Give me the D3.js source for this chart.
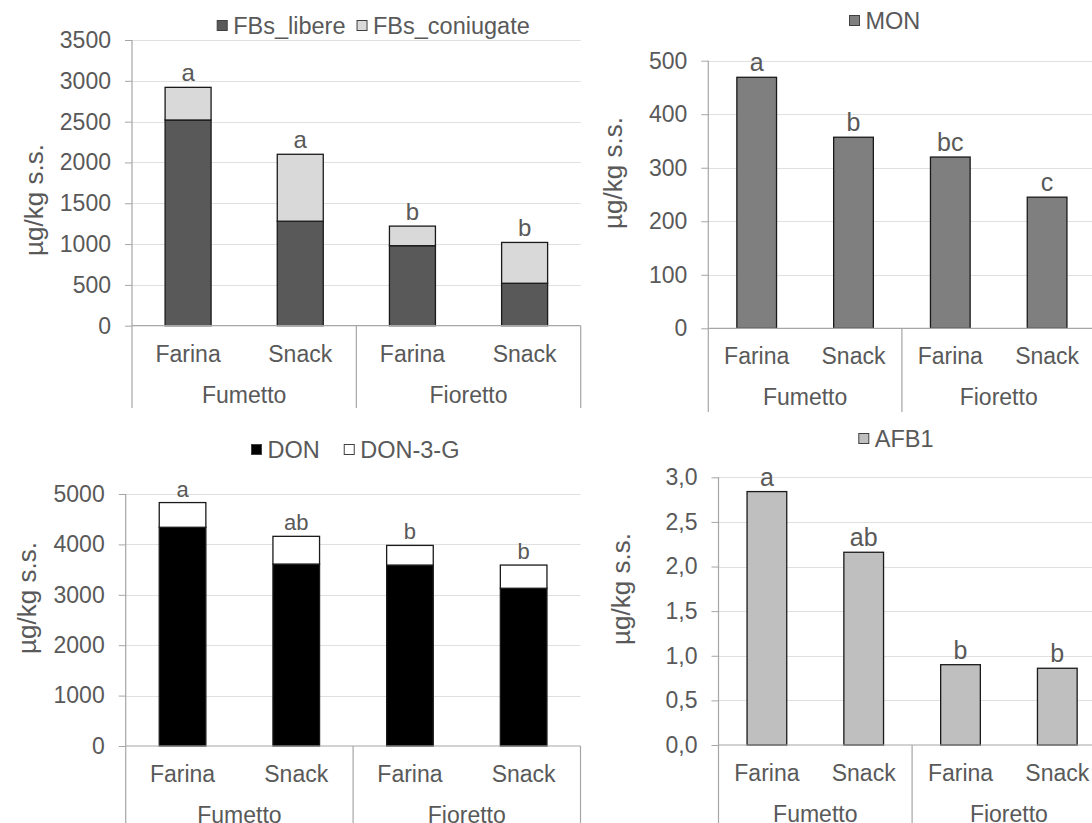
<!DOCTYPE html>
<html>
<head>
<meta charset="utf-8">
<script src="https://cdn.jsdelivr.net/npm/d3@7"></script>
<style>
  html, body { margin: 0; padding: 0; background: #fff; }
  svg { display: block; }
  text { font-family: "Liberation Sans", Arial, sans-serif; fill: #595959; }
</style>
</head>
<body>
<svg id="chart" width="1092" height="823"></svg>
<script>
// ---- Data ----
const products = ["Farina", "Snack", "Farina", "Snack"];
const groups = ["Fumetto", "Fioretto"];

const fbsLibere = [2520, 1280, 980, 520];
const fbsConiugate = [400, 820, 240, 500];
const fbsLetters = ["a", "a", "b", "b"];

const mon = [469, 357, 320, 245];
const monLetters = ["a", "b", "bc", "c"];

const don = [4340, 3610, 3590, 3130];
const don3G = [490, 550, 390, 460];
const donLetters = ["a", "ab", "b", "b"];

const afb1 = [2.84, 2.16, 0.90, 0.86];
const afb1Letters = ["a", "ab", "b", "b"];

const fbsTicks = [0, 500, 1000, 1500, 2000, 2500, 3000, 3500];
const monTicks = [0, 100, 200, 300, 400, 500];
const donTicks = [0, 1000, 2000, 3000, 4000, 5000];
const afb1Ticks = [0, 0.5, 1.0, 1.5, 2.0, 2.5, 3.0];

const yTitle = "µg/kg s.s.";

const commaDecimal = d3.formatLocale({decimal: ",", thousands: ".", grouping: [3], currency: ["", "€"]}).format(".1f");

// ---- Panels ----
const panels = [
  {
    series: [{name: "FBs_libere", values: fbsLibere, fill: "#595959"},
             {name: "FBs_coniugate", values: fbsConiugate, fill: "#d9d9d9"}],
    letters: fbsLetters, ticks: fbsTicks, fmt: d3.format("d"),
    x0: 132, x1: 580.7, yTop: 40, yZero: 325.7, catBottom: 408,
    titleX: 34, titleY: 200, legendX: 216.7, legendY: 26, legendGap: 11,
    letterSize: 24
  },
  {
    series: [{name: "MON", values: mon, fill: "#7f7f7f"}],
    letters: monLetters, ticks: monTicks, fmt: d3.format("d"),
    x0: 708.3, x1: 1095.5, yTop: 60.7, yZero: 328.3, catBottom: 412,
    titleX: 612.6, titleY: 173, legendX: 849, legendY: 21, legendGap: 12,
    letterSize: 25
  },
  {
    series: [{name: "DON", values: don, fill: "#000000"},
             {name: "DON-3-G", values: don3G, fill: "#ffffff"}],
    letters: donLetters, ticks: donTicks, fmt: d3.format("d"),
    x0: 125.7, x1: 580.5, yTop: 494, yZero: 746, catBottom: 830,
    titleX: 27, titleY: 598, legendX: 251, legendY: 450, legendGap: 24,
    letterSize: 22
  },
  {
    series: [{name: "AFB1", values: afb1, fill: "#bfbfbf"}],
    letters: afb1Letters, ticks: afb1Ticks, fmt: commaDecimal,
    x0: 718.5, x1: 1105.7, yTop: 477.3, yZero: 745, catBottom: 830,
    titleX: 621, titleY: 589, legendX: 858.3, legendY: 439, legendGap: 12,
    letterSize: 25
  }
];

const svg = d3.select("#chart");
svg.append("rect").attr("width", 1092).attr("height", 823).attr("fill", "#fff");

panels.forEach(p => drawPanel(p));

function drawPanel(p) {
  const g = svg.append("g");
  const idx = d3.range(products.length);
  const yMax = d3.max(p.ticks);

  const x = d3.scaleBand().domain(idx).range([p.x0, p.x1])
    .paddingInner(0.59).paddingOuter(0.295);
  const y = d3.scaleLinear().domain([0, yMax]).range([p.yZero, p.yTop]);

  // gridlines
  g.append("g").selectAll("line").data(p.ticks.filter(t => t > 0)).join("line")
    .attr("x1", p.x0).attr("x2", p.x1)
    .attr("y1", d => Math.round(y(d)) + 0.5).attr("y2", d => Math.round(y(d)) + 0.5)
    .attr("stroke", "#e0e0e0").attr("stroke-width", 1);

  // value axis
  const yAxis = d3.axisLeft(y).tickValues(p.ticks).tickFormat(p.fmt)
    .tickSize(7).tickSizeOuter(0).tickPadding(14);
  const ya = g.append("g").attr("transform", `translate(${p.x0},0)`).call(yAxis);
  ya.select(".domain").remove();
  ya.selectAll(".tick line").attr("stroke", "#a6a6a6");
  ya.selectAll(".tick text").attr("font-size", 23).attr("fill", "#595959")
    .attr("font-family", "Liberation Sans, Arial, sans-serif");

  // stacked bars
  const stacked = d3.stack().keys(d3.range(p.series.length))
    .value((d, k) => p.series[k].values[d])(idx);
  stacked.forEach((layer, k) => {
    g.append("g").selectAll("rect").data(layer).join("rect")
      .attr("x", (d, i) => x(i))
      .attr("width", x.bandwidth())
      .attr("y", d => y(d[1]))
      .attr("height", d => y(d[0]) - y(d[1]))
      .attr("fill", p.series[k].fill)
      .attr("stroke", "#1a1a1a").attr("stroke-width", 1.3);
  });

  // axis lines (value axis + multi-level category axis)
  const axisColor = "#a6a6a6";
  g.append("line").attr("x1", p.x0).attr("x2", p.x0)
    .attr("y1", y(yMax)).attr("y2", p.catBottom)
    .attr("stroke", axisColor).attr("stroke-width", 1.2);
  g.append("line").attr("x1", p.x0).attr("x2", p.x1)
    .attr("y1", y(0)).attr("y2", y(0))
    .attr("stroke", axisColor).attr("stroke-width", 1.2);
  const sepX = (x(1) + x.bandwidth() + x(2)) / 2;
  [sepX, p.x1].forEach(sx => {
    g.append("line").attr("x1", sx).attr("x2", sx)
      .attr("y1", y(0)).attr("y2", p.catBottom)
      .attr("stroke", axisColor).attr("stroke-width", 1.2);
  });

  // category labels
  g.append("g").selectAll("text").data(products).join("text")
    .attr("x", (d, i) => x(i) + x.bandwidth() / 2)
    .attr("y", y(0) + 36)
    .attr("text-anchor", "middle").attr("font-size", 23)
    .text(d => d);
  g.append("g").selectAll("text").data(groups).join("text")
    .attr("x", (d, i) => (x(i * 2) + x(i * 2 + 1) + x.bandwidth()) / 2)
    .attr("y", y(0) + 77)
    .attr("text-anchor", "middle").attr("font-size", 23)
    .text(d => d);

  // significance letters
  const totals = idx.map(i => d3.sum(p.series, s => s.values[i]));
  g.append("g").selectAll("text").data(p.letters).join("text")
    .attr("x", (d, i) => x(i) + x.bandwidth() / 2)
    .attr("y", (d, i) => y(totals[i]) - 6)
    .attr("text-anchor", "middle").attr("font-size", p.letterSize)
    .attr("fill", "#404040")
    .text(d => d);

  // axis title
  g.append("text")
    .attr("transform", `translate(${p.titleX},${p.titleY}) rotate(-90)`)
    .attr("text-anchor", "middle").attr("dominant-baseline", "central")
    .attr("font-size", 26)
    .text(yTitle);

  // legend
  const lg = g.append("g");
  let cx = p.legendX;
  p.series.forEach(s => {
    lg.append("rect").attr("x", cx + 0.5).attr("y", p.legendY - 5.5)
      .attr("width", 10).attr("height", 10)
      .attr("fill", s.fill).attr("stroke", "#404040").attr("stroke-width", 1);
    const t = lg.append("text").attr("x", cx + 16.5).attr("y", p.legendY)
      .attr("dominant-baseline", "central").attr("font-size", 23.5).text(s.name);
    cx += 16.5 + t.node().getComputedTextLength() + p.legendGap;
  });
}
</script>
</body>
</html>
